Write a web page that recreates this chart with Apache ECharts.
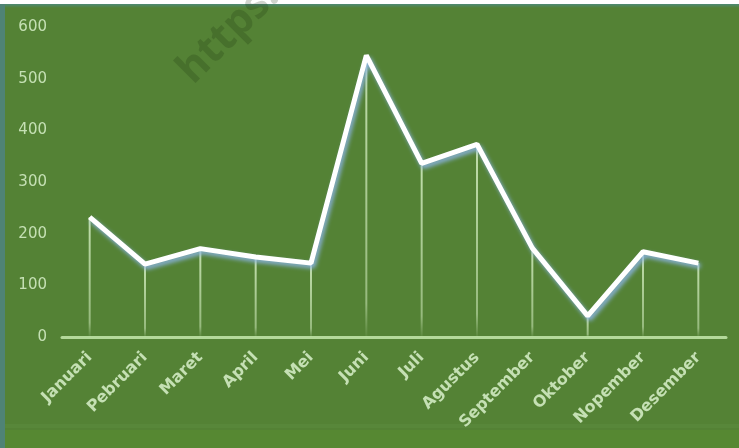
<!DOCTYPE html>
<html>
<head>
<meta charset="utf-8">
<script src="https://cdn.jsdelivr.net/npm/echarts@6/dist/echarts.min.js"></script>
<style>
html,body{margin:0;padding:0;background:#548235;}
#c{width:739px;height:448px;}
</style>
</head>
<body>
<div id="c"></div>
<script>
const months = ['Januari','Pebruari','Maret','April','Mei','Juni','Juli','Agustus','September','Oktober','Nopember','Desember'];
const values = [232, 141, 171, 155, 143, 545, 336, 373, 172, 41, 165, 143];
const yTicks = {min: 0, max: 600, interval: 100};

const chart = echarts.init(document.getElementById('c'), null, {renderer: 'canvas'});
chart.setOption({
  animation: false,
  backgroundColor: '#548235',
  grid: {left: 62, right: 13, top: 27, bottom: 111},
  xAxis: {
    type: 'category',
    data: months,
    axisLine: {lineStyle: {color: '#b4d99a', width: 3}},
    axisTick: {show: false},
    axisLabel: {
      rotate: 45, color: '#c5e0b4', fontSize: 16, fontWeight: 'bold',
      fontFamily: 'DejaVu Sans', margin: 18, interval: 0
    }
  },
  yAxis: {
    type: 'value',
    min: yTicks.min, max: yTicks.max, interval: yTicks.interval,
    axisLine: {show: false},
    axisTick: {show: false},
    splitLine: {show: false},
    axisLabel: {color: '#c5e0b4', fontSize: 15, fontFamily: 'DejaVu Sans', margin: 15}
  },
  series: [
    {
      type: 'bar',
      data: values,
      barWidth: 2,
      z: 1,
      itemStyle: {
        color: new echarts.graphic.LinearGradient(0, 0, 0, 1, [
          {offset: 0, color: 'rgba(205,232,185,0.9)'},
          {offset: 0.88, color: 'rgba(205,232,185,0.55)'},
          {offset: 1, color: 'rgba(205,232,185,0.05)'}
        ])
      }
    },
    {
      type: 'line',
      data: values,
      symbol: 'none',
      z: 3,
      lineStyle: {
        color: '#ffffff', width: 5,
        shadowColor: 'rgba(140,180,230,0.95)', shadowBlur: 4,
        shadowOffsetX: 2, shadowOffsetY: 3
      }
    }
  ],
  graphic: [
    {type: 'rect', left: 0, top: 0, shape: {width: 739, height: 4}, style: {fill: '#ffffff'}, z: 10},
    {type: 'rect', left: 0, top: 4, shape: {width: 739, height: 4},
      style: {fill: new echarts.graphic.LinearGradient(0,0,0,1,[{offset:0,color:'#4e8a74'},{offset:1,color:'#548235'}])}, z: 10},
    {type: 'rect', left: 0, top: 4, shape: {width: 5, height: 444}, style: {fill: '#4f8375'}, z: 10},
    {type: 'rect', left: 5, top: 424, shape: {width: 734, height: 4}, style: {fill: '#58873a'}, z: 0},
    {type: 'rect', left: 5, top: 430, shape: {width: 734, height: 18}, style: {fill: '#568832'}, z: 0},
    {type: 'text', x: 170, y: 62, rotation: Math.PI / 4,
      style: {text: 'https://', font: 'bold 42px "Open Sans"', fill: 'rgba(20,40,10,0.2)'}, z: 20}
  ]
});
</script>
</body>
</html>
